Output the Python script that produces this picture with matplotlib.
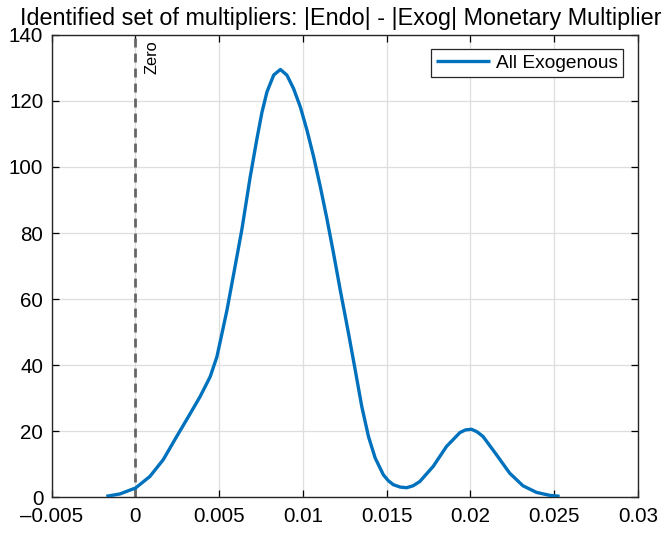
import matplotlib
matplotlib.use("Agg")
import matplotlib.pyplot as plt
from matplotlib.ticker import FuncFormatter

plt.rcParams['font.family'] = ['Liberation Sans', 'DejaVu Sans']

title = "Identified set of multipliers: |Endo| - |Exog| Monetary Multiplier"
series_label = "All Exogenous"
zero_label = "Zero"

x_vals = [-0.00174, -0.00094, 0.00000, 0.00086, 0.00166, 0.00246, 0.00316, 0.00386,
          0.00446, 0.00486, 0.00516, 0.00546, 0.00586, 0.00635, 0.00685, 0.00725,
          0.00755, 0.00785, 0.00825, 0.00865, 0.00904, 0.00944, 0.00984, 0.01024,
          0.01064, 0.01104, 0.01143, 0.01183, 0.01223, 0.01272, 0.01312, 0.01351,
          0.01391, 0.01431, 0.01480, 0.01510, 0.01540, 0.01580, 0.01619, 0.01658,
          0.01698, 0.01778, 0.01857, 0.01937, 0.01970, 0.02006, 0.02040, 0.02075,
          0.02155, 0.02234, 0.02313, 0.02393, 0.02472, 0.02532]
density = [0.3, 1.0, 2.8, 6.3, 11.4, 18.4, 24.4, 30.5,
           36.5, 42.5, 49.5, 56.6, 67.5, 81.0, 97.0, 108.5,
           116.5, 122.7, 127.8, 129.5, 127.8, 123.7, 118.2, 111.1,
           103.0, 93.9, 84.3, 73.7, 62.6, 49.6, 38.5, 27.5,
           18.4, 11.9, 6.8, 5.0, 3.8, 3.1, 2.9, 3.5,
           4.8, 9.4, 15.4, 19.6, 20.4, 20.6, 19.8, 18.4,
           12.9, 7.3, 3.5, 1.5, 0.6, 0.3]

x_ticks = [-0.005, 0, 0.005, 0.01, 0.015, 0.02, 0.025, 0.03]
y_ticks = [0, 20, 40, 60, 80, 100, 120, 140]

W, H = 672, 534
ax_l, ax_r, ax_t, ax_b = 51.7, 638.0, 34.8, 497.3

fig = plt.figure(figsize=(W / 100, H / 100), dpi=100)
ax = fig.add_axes([ax_l / W, 1 - ax_b / H, (ax_r - ax_l) / W, (ax_b - ax_t) / H])

ax.plot(x_vals, density, color='#0072BD', lw=2.4, label=series_label, zorder=3,
        solid_joinstyle='round', solid_capstyle='butt')
ax.axvline(0, color='#666666', lw=2.0, ls=(0, (3.2, 2.2)), zorder=2)
ax.text(0.00052, 138.2, zero_label, rotation=90, ha='left', va='top', fontsize=11.8)

ax.set_xlim(-0.005, 0.03)
ax.set_ylim(0, 140)
ax.set_xticks(x_ticks)
ax.set_yticks(y_ticks)
ax.xaxis.set_major_formatter(FuncFormatter(
    lambda v, p: '0' if abs(v) < 1e-12 else ('%g' % v).replace('-', '\u2013')))
ax.grid(True, color='#dedede', lw=0.9)
ax.set_axisbelow(True)
ax.tick_params(direction='in', top=True, right=True, labelsize=14.8, length=5, width=0.9)
ax.tick_params(axis='x', pad=7)
ax.tick_params(axis='y', pad=6)
for s in ax.spines.values():
    s.set_linewidth(1.0)
    s.set_color('#262626')

fig.text(341 / W, 1 - 25 / H, title, fontsize=16.8, ha='center', va='baseline')

leg = ax.legend(loc='upper right', fontsize=13.8, fancybox=False, framealpha=1,
                edgecolor='#262626', handlelength=2.8, borderpad=0.28,
                handletextpad=0.3, borderaxespad=0,
                bbox_to_anchor=(1 - 15 / (ax_r - ax_l), 1 - 14.3 / (ax_b - ax_t)))
leg.get_frame().set_linewidth(0.9)
leg.get_lines()[0].set_linewidth(2.4)

fig.savefig('out.png', dpi=100)
